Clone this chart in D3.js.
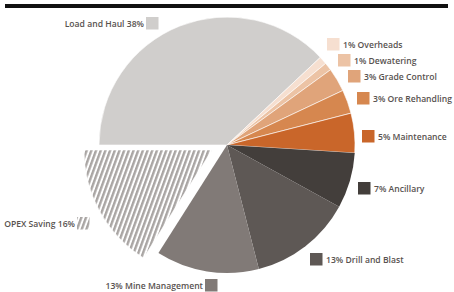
<!DOCTYPE html>
<html>
<head>
<meta charset="utf-8">
<script src="https://cdn.jsdelivr.net/npm/d3@7"></script>
<style>
  body { margin: 0; background: #fff; }
  text { font-family: "Open Sans", sans-serif; font-weight: 600; font-size: 8.6px; fill: #58524f; }
</style>
</head>
<body>
<div id="container"></div>
<script>
const categories = ['Load and Haul', 'Overheads', 'Dewatering', 'Grade Control', 'Ore Rehandling',
                    'Maintenance', 'Ancillary', 'Drill and Blast', 'Mine Management', 'OPEX Saving'];
const shares = [38, 1, 1, 3, 3, 5, 7, 13, 13, 16];
const colours = ['#d0cecc', '#f6dfd0', '#ecc3a5', '#e0a47a', '#d6874f',
                 '#c9662a', '#433e3b', '#5e5855', '#817a77', 'url(#hatch)'];
// label text, legend square position, which side the text goes
const legend = [
    { text: 'Load and Haul 38%', x: 146, y: 17, side: 'left' },
    { text: '1% Overheads', x: 327, y: 38, side: 'right' },
    { text: '1% Dewatering', x: 338, y: 54, side: 'right' },
    { text: '3% Grade Control', x: 348, y: 70, side: 'right' },
    { text: '3% Ore Rehandling', x: 357, y: 92, side: 'right' },
    { text: '5% Maintenance', x: 362, y: 130, side: 'right' },
    { text: '7% Ancillary', x: 358, y: 182, side: 'right' },
    { text: '13% Drill and Blast', x: 310, y: 253, side: 'right' },
    { text: '13% Mine Management', x: 205, y: 279, side: 'left' },
    { text: 'OPEX Saving 16%', x: 77, y: 217, side: 'left' }
];

const svg = d3.select('#container')
    .append('svg')
        .attr('width', 454)
        .attr('height', 292);

const defs = svg.append('defs');
const pattern = defs.append('pattern')
    .attr('id', 'hatch')
    .attr('patternUnits', 'userSpaceOnUse')
    .attr('width', 4.4)
    .attr('height', 4.4)
    .attr('patternTransform', 'rotate(20)');
pattern.append('rect')
    .attr('width', 4.4).attr('height', 4.4).attr('fill', '#fff');
pattern.append('rect')
    .attr('width', 2.4).attr('height', 4.4).attr('fill', '#a9a5a3');

// thick rule under the (cropped) title
svg.append('rect')
    .attr('x', 5).attr('y', 4)
    .attr('width', 443).attr('height', 4)
    .attr('fill', '#111');

const radius = 128;
const pie = d3.pie()
    .sort(null)
    .value((d) => d)
    .startAngle(-Math.PI / 2)
    .endAngle(Math.PI * 1.5);
const arc = d3.arc().innerRadius(0).outerRadius(radius);

const pieGroup = svg.append('g')
    .attr('transform', 'translate(' + 227 + ',' + 145 + ')');

pieGroup.selectAll('path')
    .data(pie(shares))
    .enter()
    .append('path')
        .attr('d', arc)
        .attr('fill', (d, i) => colours[i])
        .attr('stroke', '#fff')
        .attr('stroke-width', (d, i) => i === 6 || i === 7 || i === 8 ? 0 : 0.6)
        .attr('transform', (d, i) => categories[i] === 'OPEX Saving' ? 'translate(-15,5)' : null);

const keys = svg.append('g').attr('class', 'legend');
legend.forEach((it, i) => {
    keys.append('rect')
        .attr('x', it.x)
        .attr('y', it.y)
        .attr('width', 12.5)
        .attr('height', 12.5)
        .attr('fill', colours[i]);
    keys.append('text')
        .attr('x', it.side === 'left' ? it.x - 2 : it.x + 16)
        .attr('y', it.y + 6.5)
        .attr('dy', '0.35em')
        .attr('text-anchor', it.side === 'left' ? 'end' : 'start')
        .text(it.text);
});
</script>
</body>
</html>
